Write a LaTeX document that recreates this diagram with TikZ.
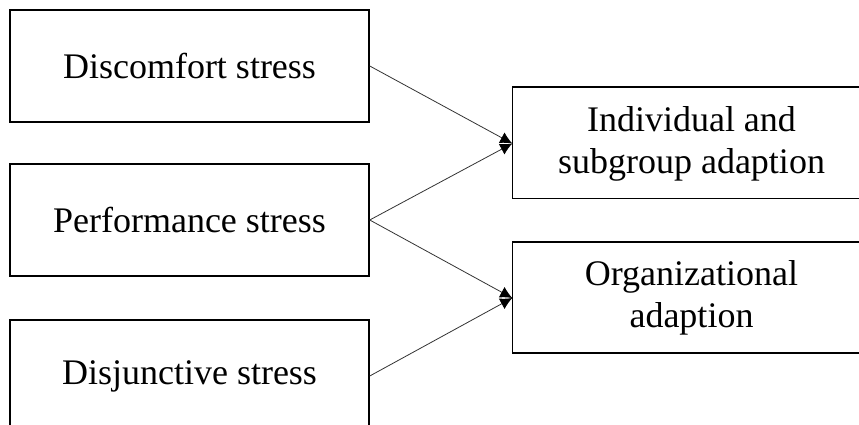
\documentclass[tikz,border=0pt]{standalone}
\usepackage{fontspec}
\setmainfont{Liberation Serif}
\usetikzlibrary{arrows.meta}
\begin{document}
\begin{tikzpicture}[x=1pt,y=-1pt,
  frame/.style={draw, line width=1.5pt},
  box/.style={frame, minimum width=359pt, minimum height=112pt,
    inner sep=0pt, align=center, font=\fontsize{36}{42}\selectfont},
  outcome/.style={box, draw=none, minimum width=357pt, minimum height=111pt},
  link/.style={line width=0.8pt, draw=black!80,
    -{Latex[length=12pt,width=12pt,black]}}]
\useasboundingbox (0,0) rectangle (859,425);
\clip (0,0) rectangle (859,425);
% stress sources
\node[box] (dis) at (189.5,66)  {Discomfort stress};
\node[box] (per) at (189.5,220) {Performance stress};
\node[box] (dsj) at (189.5,376) {Disjunctive stress};
% adaption outcomes, their frames run past the right edge
\node[outcome] (ind) at (691.5,143.5) {Individual and\\subgroup adaption};
\node[outcome] (org) at (691.5,298) {Organizational\\adaption};
\draw[frame] (ind.north west) rectangle ++(400,111);
\draw[frame] (org.north west) rectangle ++(400,111);
% links
\draw[link] (dis.east) -- (ind.west);
\draw[link] (per.east) -- (ind.west);
\draw[link] (per.east) -- (org.west);
\draw[link] (dsj.east) -- (org.west);
\end{tikzpicture}
\end{document}
